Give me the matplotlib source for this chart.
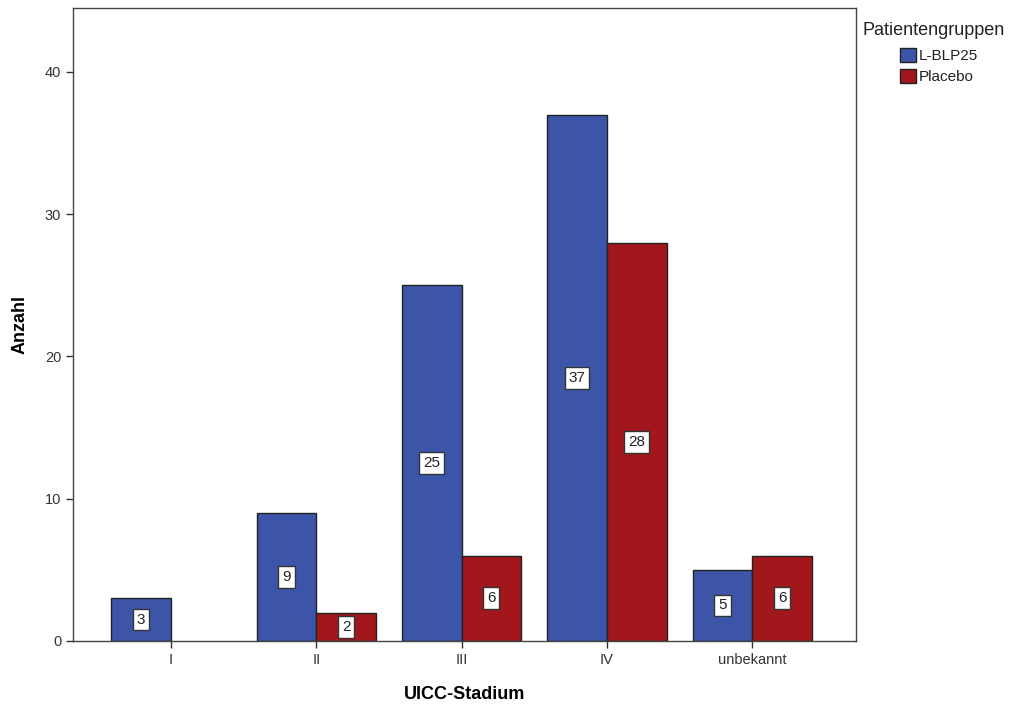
import matplotlib.pyplot as plt
import numpy as np
from matplotlib.patches import Patch

plt.rcParams["font.family"] = ["Liberation Sans", "DejaVu Sans"]

stages = ['I', 'II', 'III', 'IV', 'unbekannt']
blp25 = [3, 9, 25, 37, 5]
placebo = [0, 2, 6, 28, 6]
groups = ['L-BLP25', 'Placebo']
colors = ['#3d55a8', '#a1171b']

fig = plt.figure(figsize=(10.11, 7.06), dpi=100)
ax = fig.add_axes([0.0722, 0.0921, 0.7745, 0.8966])

x = np.arange(len(stages))
wid = 0.41

for vals, off, col in [(blp25, -wid / 2, colors[0]), (placebo, wid / 2, colors[1])]:
    bars = ax.bar(x + off, vals, width=wid, color=col, edgecolor='#222222', linewidth=1)
    for b, v in zip(bars, vals):
        if v == 0:
            b.set_visible(False)
            continue
        ax.text(b.get_x() + b.get_width() / 2, v / 2, str(v), ha='center', va='center',
                fontsize=11, color='#222222',
                bbox=dict(boxstyle='square,pad=0.25', fc='white', ec='#333333', lw=1))

ax.set_xlim(-0.674, 4.714)
ax.set_ylim(0, 44.5)
ax.set_yticks([0, 10, 20, 30, 40])
ax.set_xticks(x)
ax.set_xticklabels(stages)
ax.tick_params(axis='both', direction='out', length=5, width=1, labelsize=10.5,
               labelcolor='#333333', color='#333333')
for s in ax.spines.values():
    s.set_color('#444444')
    s.set_linewidth(1)

ax.set_xlabel('UICC-Stadium', fontsize=13, fontweight='bold', labelpad=14)
ax.set_ylabel('Anzahl', fontsize=13, fontweight='bold', labelpad=12)

fig.text(0.853, 0.957, 'Patientengruppen', fontsize=13, color='#222222',
         ha='left', va='center')
handles = [Patch(facecolor=c, edgecolor='#222222', linewidth=1) for c in colors]
leg = fig.legend(handles, groups, loc='upper left',
                 bbox_to_anchor=(0.880, 0.947), frameon=False, fontsize=11,
                 handlelength=1.0, handleheight=1.0,
                 handletextpad=0.2, labelspacing=0.4, borderpad=0.2)
for t in leg.get_texts():
    t.set_color('#222222')

fig.savefig('out.png', dpi=100)
